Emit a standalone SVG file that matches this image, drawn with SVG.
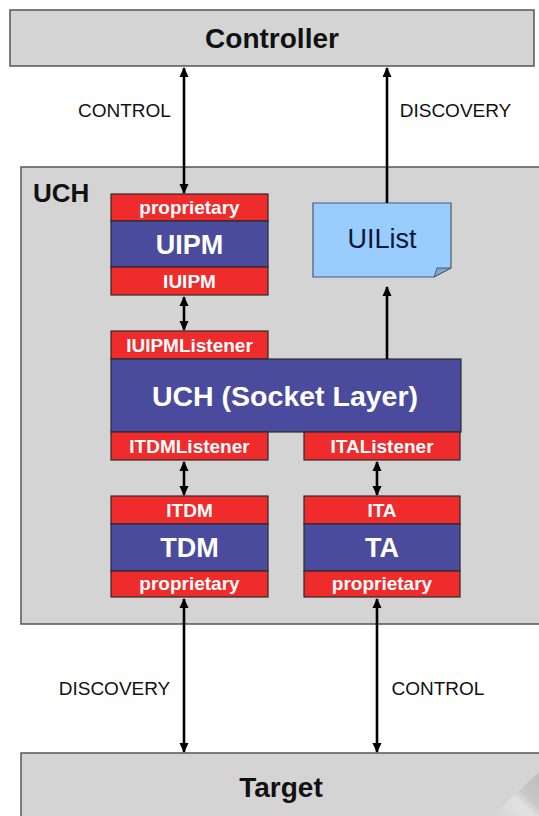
<svg xmlns="http://www.w3.org/2000/svg" width="539" height="816" viewBox="0 0 539 816">
<defs>
<style>
.gray{fill:#d4d4d4;stroke:#555;stroke-width:1.5}
.red{fill:#f02b2b;stroke:#2a2a2a;stroke-width:1.2}
.blue{fill:#4b4b9e;stroke:#2a2a2a;stroke-width:1.2}
.note{fill:#99ccff;stroke:#4a5a70;stroke-width:1.2}
.w{font-family:"Liberation Sans",Arial,sans-serif;font-weight:bold;fill:#fff;text-anchor:middle}
.s{font-size:19px}
.b{font-size:27px}
.lbl{font-family:"Liberation Sans",Arial,sans-serif;font-size:19px;fill:#111;text-anchor:middle}
.title{font-family:"Liberation Sans",Arial,sans-serif;font-weight:bold;font-size:28px;fill:#111;text-anchor:middle}
.arr{stroke:#000;stroke-width:2.6;fill:none}
</style>
<marker id="ah" viewBox="0 0 10 10" refX="9" refY="5" markerWidth="10" markerHeight="10" markerUnits="userSpaceOnUse" orient="auto-start-reverse">
<path d="M0,0.5 L10,5 L0,9.5 z" fill="#000"/>
</marker>
<linearGradient id="curl" x1="0" y1="1" x2="1" y2="0">
<stop offset="0" stop-color="#d4d4d4"/>
<stop offset="0.45" stop-color="#e2e2e2"/>
<stop offset="0.6" stop-color="#c8c8c8"/>
<stop offset="1" stop-color="#bdbdbd"/>
</linearGradient>
</defs>
<rect width="539" height="816" fill="#fff"/>

<g id="controller">
<rect class="gray" x="10" y="10" width="524" height="56"/>
<text class="title" x="272" y="48">Controller</text>
</g>

<g id="uch">
<rect class="gray" x="21" y="167" width="530" height="457"/>
<text x="33" y="202" font-family="Liberation Sans, Arial, sans-serif" font-weight="bold" font-size="26" fill="#111">UCH</text>
</g>

<g id="target">
<rect class="gray" x="21" y="753" width="530" height="70"/>
<polygon points="492,816 539,772 539,816" fill="url(#curl)"/>
<text class="title" x="281" y="797">Target</text>
</g>

<g id="uipm">
<rect class="red" x="111" y="194" width="157" height="27"/>
<text class="w s" x="189.5" y="214">proprietary</text>
<rect class="blue" x="111" y="221" width="157" height="46"/>
<text class="w b" x="189.5" y="254">UIPM</text>
<rect class="red" x="111" y="267" width="157" height="28"/>
<text class="w s" x="189.5" y="288">IUIPM</text>
</g>

<g id="uilist">
<path class="note" d="M313,203 H451 V268 L434,277 H313 Z"/>
<path d="M434,277 L437,268 L451,268 Z" fill="#7fa8d8" stroke="#4a5a70" stroke-width="1"/>
<text x="382" y="248" font-family="Liberation Sans, Arial, sans-serif" font-size="27" fill="#0c1836" text-anchor="middle">UIList</text>
</g>

<g id="socket">
<rect class="red" x="111" y="331" width="157" height="28"/>
<text class="w s" x="189.5" y="352">IUIPMListener</text>
<rect class="blue" x="111" y="359" width="350" height="73"/>
<text class="w" x="285" y="406" font-size="28.5">UCH (Socket Layer)</text>
<rect class="red" x="111" y="432" width="157" height="28"/>
<text class="w s" x="189.5" y="453">ITDMListener</text>
<rect class="red" x="304" y="432" width="156" height="28"/>
<text class="w s" x="382" y="453">ITAListener</text>
</g>

<g id="tdm">
<rect class="red" x="111" y="496" width="157" height="28"/>
<text class="w s" x="189.5" y="517">ITDM</text>
<rect class="blue" x="111" y="524" width="157" height="47"/>
<text class="w b" x="189.5" y="557">TDM</text>
<rect class="red" x="111" y="571" width="157" height="26"/>
<text class="w s" x="189.5" y="590">proprietary</text>
</g>

<g id="ta">
<rect class="red" x="304" y="496" width="156" height="28"/>
<text class="w s" x="382" y="517">ITA</text>
<rect class="blue" x="304" y="524" width="156" height="47"/>
<text class="w b" x="382" y="557">TA</text>
<rect class="red" x="304" y="571" width="156" height="26"/>
<text class="w s" x="382" y="590">proprietary</text>
</g>

<g id="connectors">
<line class="arr" x1="184" y1="68" x2="184" y2="193" marker-start="url(#ah)" marker-end="url(#ah)"/>
<line class="arr" x1="387" y1="203" x2="387" y2="68" marker-end="url(#ah)"/>
<line class="arr" x1="184" y1="297" x2="184" y2="330" marker-start="url(#ah)" marker-end="url(#ah)"/>
<line class="arr" x1="387" y1="359" x2="387" y2="287" marker-end="url(#ah)"/>
<line class="arr" x1="184" y1="462" x2="184" y2="495" marker-start="url(#ah)" marker-end="url(#ah)"/>
<line class="arr" x1="377" y1="462" x2="377" y2="495" marker-start="url(#ah)" marker-end="url(#ah)"/>
<line class="arr" x1="184" y1="599" x2="184" y2="752" marker-start="url(#ah)" marker-end="url(#ah)"/>
<line class="arr" x1="377" y1="599" x2="377" y2="752" marker-start="url(#ah)" marker-end="url(#ah)"/>
<text class="lbl" x="124.5" y="117">CONTROL</text>
<text class="lbl" x="455.5" y="117">DISCOVERY</text>
<text class="lbl" x="114.5" y="695">DISCOVERY</text>
<text class="lbl" x="438" y="695">CONTROL</text>
</g>
</svg>
